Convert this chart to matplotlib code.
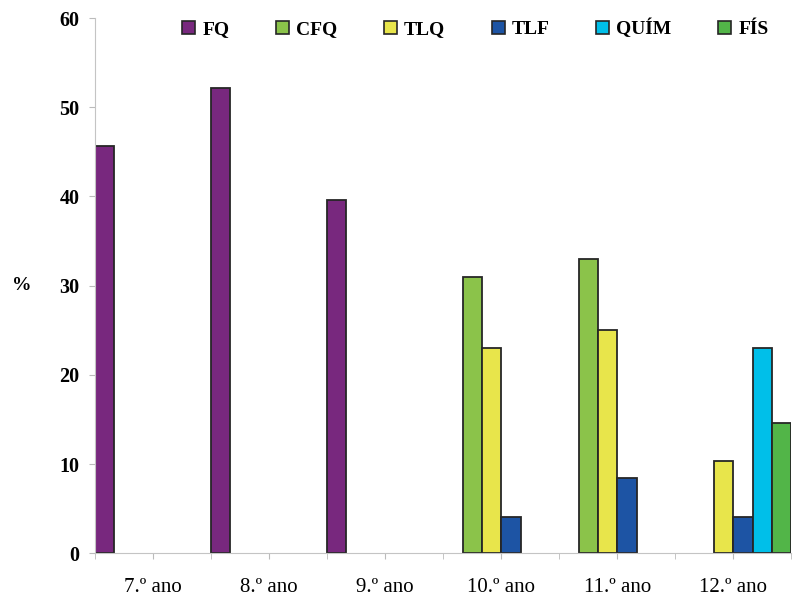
import matplotlib.pyplot as plt
from matplotlib.patches import Patch

anos = ['7.º ano', '8.º ano', '9.º ano', '10.º ano', '11.º ano', '12.º ano']
disciplinas = ['FQ', 'CFQ', 'TLQ', 'TLF', 'QUÍM', 'FÍS']
cores = ['#78287e', '#8bc34a', '#e8e54b', '#1d54a4', '#00bfe9', '#52b548']

# percentagem por ano (None = disciplina não existe nesse ano)
fq = [45.7, 52.2, 39.6, None, None, None]
cfq = [None, None, None, 31.0, 33.0, None]
tlq = [None, None, None, 23.0, 25.0, 10.4]
tlf = [None, None, None, 4.1, 8.4, 4.1]
quim = [None, None, None, None, None, 23.0]
fis = [None, None, None, None, None, 14.6]
series = [fq, cfq, tlq, tlf, quim, fis]

plt.rcParams['font.family'] = ['Liberation Serif', 'DejaVu Serif']

fig = plt.figure(figsize=(7.95, 6.01), dpi=100)
ax = fig.add_axes([0.1195, 0.0794, 0.876, 0.8906])

n = len(disciplinas)
w = 1 / n
for j, (nome, valores) in enumerate(zip(disciplinas, series)):
    xs = [i + (j + 0.5) * w for i, v in enumerate(valores) if v is not None]
    ys = [v for v in valores if v is not None]
    ax.bar(xs, ys, width=w, color=cores[j], edgecolor='#262626', linewidth=1.3)

ax.set_xlim(0, len(anos))
ax.set_ylim(0, 60)
ax.set_yticks(range(0, 61, 10))
# rótulos no centro de cada ano, marcas também nos limites entre anos
ax.set_xticks([i + 0.5 for i in range(len(anos))])
ax.set_xticklabels(anos, fontsize=15)
ax.set_xticks(range(len(anos) + 1), minor=True)
ax.tick_params(axis='x', which='both', length=4, color='#bbbbbb')
ax.tick_params(axis='x', which='major', pad=13.5)
ax.tick_params(axis='y', length=4, color='#bbbbbb', labelsize=14.5, pad=7)
for lbl in ax.get_yticklabels():
    lbl.set_fontweight('bold')

for s in ['top', 'right']:
    ax.spines[s].set_visible(False)
ax.spines['left'].set_color('#c4c4c4')
ax.spines['bottom'].set_color('#c4c4c4')

ax.set_ylabel('%', rotation=0, fontsize=14, fontweight='bold', va='center', ha='center')
ax.yaxis.set_label_coords(-0.105, 0.5)

handles = [Patch(facecolor=c, edgecolor='#262626', linewidth=1.2) for c in cores]
fig.legend(handles, disciplinas, loc='center', bbox_to_anchor=(0.598, 0.953), ncol=6,
           frameon=False, handlelength=0.67, handleheight=0.67, handletextpad=0.36,
           columnspacing=2.4, prop={'weight': 'bold', 'size': 14})

fig.savefig('out.png', dpi=100)
